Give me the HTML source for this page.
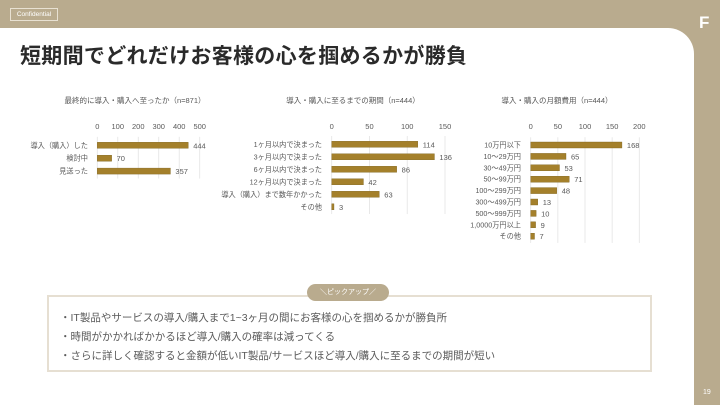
<!DOCTYPE html>
<html><head><meta charset="utf-8">
<style>
*{margin:0;padding:0;box-sizing:border-box}
body{width:720px;height:405px;background:#b9ab8e;position:relative;overflow:hidden;font-family:"Liberation Sans","Noto Sans CJK JP",sans-serif}
#panel{position:absolute;left:0;top:28px;width:694px;height:377px;background:#fff;border-top-right-radius:26px}
#conf{position:absolute;left:10px;top:8px;width:48px;height:13px;border:1px solid #e8e1d2;color:#fff;font-size:6.5px;line-height:11px;text-align:center}
#logo{position:absolute;left:699px;top:14px;color:#fff;font-size:17px;font-weight:bold;line-height:17px}
#title{position:absolute;left:20px;top:40px;font-size:21px;color:#2a2a2a;font-weight:bold;letter-spacing:0.3px}
svg{position:absolute;left:0;top:0}
#box{position:absolute;left:47px;top:295px;width:605px;height:77px;border:2px solid #e6dfd2}
#pill{position:absolute;left:307px;top:284px;width:82px;height:17px;border-radius:9px;background:#b9ab8e;color:#fff;font-size:7px;text-align:center;line-height:17px}
.pt{position:absolute;left:60px;font-size:10.5px;color:#5a5a5a}
#pg{position:absolute;left:703px;top:389px;color:#fff;font-size:7px}
</style></head><body>
<div id="panel"></div>
<div id="conf">Confidential</div>
<div id="logo">F</div>
<div id="title">短期間でどれだけお客様の心を掴めるかが勝負</div>
<svg id="charts" width="720" height="405"></svg>
<div id="box"></div>
<div id="pill">＼ピックアップ／</div>
<div class="pt" style="top:310px">・IT製品やサービスの導入/購入まで1~3ヶ月の間にお客様の心を掴めるかが勝負所</div>
<div class="pt" style="top:329px">・時間がかかればかかるほど導入/購入の確率は減ってくる</div>
<div class="pt" style="top:348px">・さらに詳しく確認すると金額が低いIT製品/サービスほど導入/購入に至るまでの期間が短い</div>
<div id="pg">19</div>
<script>
const c1Categories=["導入（購入）した","検討中","見送った"];
const c1Values=[444,70,357];
const c1Ticks=[0,100,200,300,400,500];
const c2Categories=["1ヶ月以内で決まった","3ヶ月以内で決まった","6ヶ月以内で決まった","12ヶ月以内で決まった","導入（購入）まで数年かかった","その他"];
const c2Values=[114,136,86,42,63,3];
const c2Ticks=[0,50,100,150];
const c3Categories=["10万円以下","10～29万円","30～49万円","50～99万円","100～299万円","300～499万円","500～999万円","1,0000万円以上","その他"];
const c3Values=[168,65,53,71,48,13,10,9,7];
const c3Ticks=[0,50,100,150,200];
const NS="http://www.w3.org/2000/svg";
const svg=document.getElementById('charts');
function mk(tag,attrs,text){const e=document.createElementNS(NS,tag);for(const k in attrs)e.setAttribute(k,attrs[k]);if(text!==undefined)e.textContent=text;svg.appendChild(e);return e;}
function chart(id,title,titleX,cats,vals,ticks,x0,x1,maxV,y0,step,labelX){
  const sx=v=>x0+(x1-x0)*v/maxV;
  const t=mk('text',{x:titleX,y:103,'font-size':7.5,fill:'#595959','text-anchor':'middle'},title);
  
  
  const yEnd=y0+step*(cats.length-0.5)+1;
  ticks.forEach(v=>{
    const g=mk('line',{x1:sx(v),x2:sx(v),y1:y0-step/2-2,y2:yEnd,stroke:'#e3e3e3','stroke-width':0.8});
    
    
    const tl=mk('text',{x:sx(v),y:129,'font-size':7.5,fill:'#595959','text-anchor':'middle'},String(v));
    
    
  });
  cats.forEach((cat,i)=>{
    const y=y0+step*i;
    const l=mk('text',{x:labelX,y:y+2.5,'font-size':7.2,fill:'#595959','text-anchor':'end'},cat);
    
    
    const b=mk('rect',{x:x0,y:y-3,width:Math.max(sx(vals[i])-x0,1.5),height:6,fill:'#a4802b',stroke:'#7f6420','stroke-width':0.4});
    
    
    const vl=mk('text',{x:sx(vals[i])+5,y:y+3,'font-size':7.5,fill:'#595959'},String(vals[i]));
    
    
  });
}
chart('adoption-chart','最終的に導入・購入へ至ったか（n=871）',135,c1Categories,c1Values,c1Ticks,97.3,199.7,500,145.3,12.9,88);
chart('period-chart','導入・購入に至るまでの期間（n=444）',353,c2Categories,c2Values,c2Ticks,331.7,445,150,144.3,12.5,322);
chart('cost-chart','導入・購入の月額費用（n=444）',557,c3Categories,c3Values,c3Ticks,530.7,639.3,200,145,11.4,521);
</script>
</body></html>
